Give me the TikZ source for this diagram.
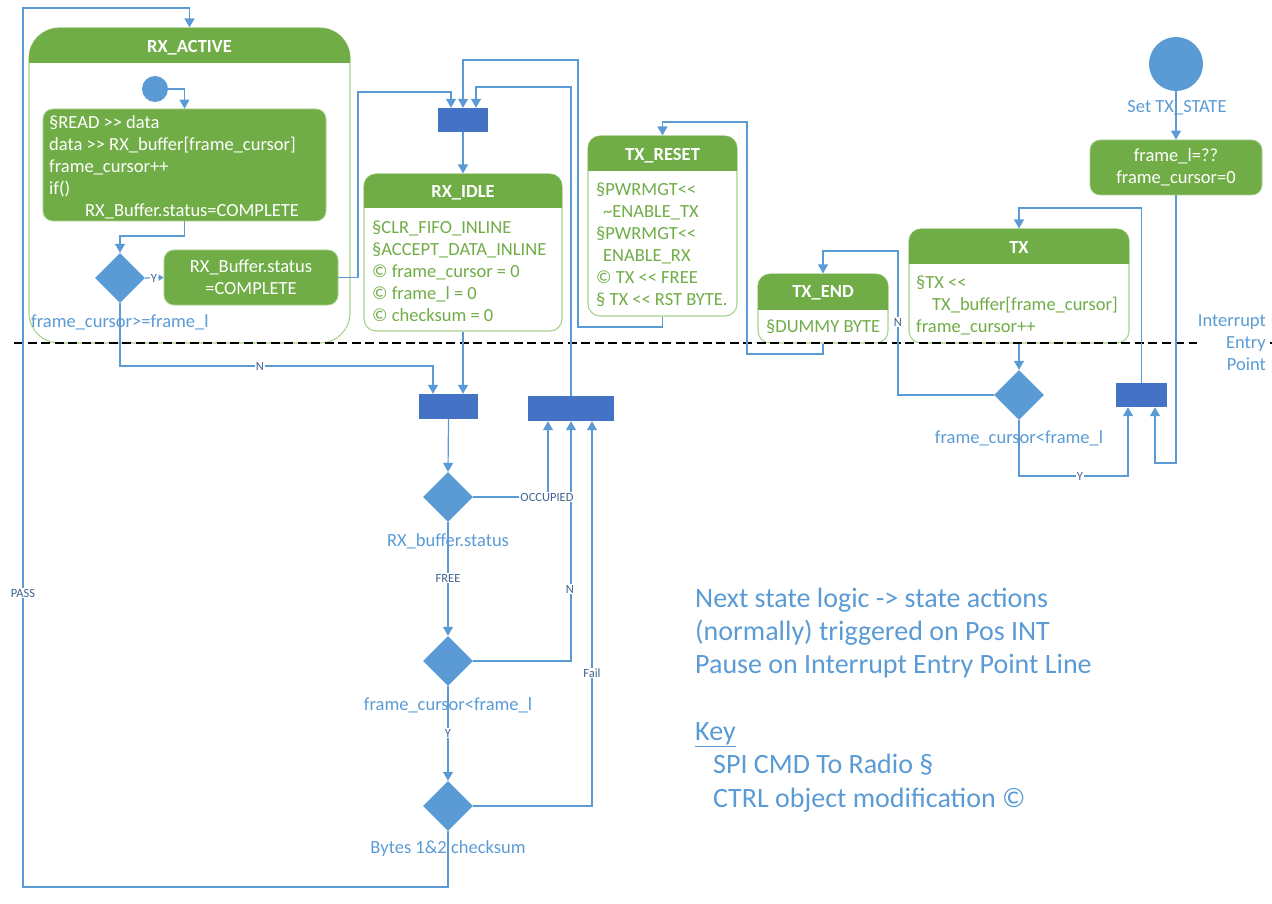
\documentclass[tikz,border=0pt]{standalone}
\usepackage{fontspec}
\setmainfont{Carlito}
\usetikzlibrary{arrows.meta,shapes.geometric}
\definecolor{grn}{HTML}{70AD47}
\definecolor{lgrn}{HTML}{A9D18E}
\definecolor{cblue}{HTML}{5B9BD5}
\definecolor{barblue}{HTML}{4472C4}
\definecolor{lblc}{HTML}{41638F}
\newcommand{\bodyfont}{\fontsize{18.5}{22}\selectfont}
\newcommand{\smallfont}{\fontsize{12.5}{14}\selectfont}
\newcommand{\keyfont}{\fontsize{28}{33}\selectfont}
\newcommand{\hdrfill}[5]{\begin{scope}\clip (#1,#2) rectangle (#3,#4);\fill[grn, rounded corners=#5] (#1,#2) rectangle (#3,#4+40);\end{scope}}
\begin{document}
\begin{tikzpicture}[x=1pt,y=-1pt,
  conn/.style={draw=cblue, line width=1.2pt},
  arr/.style={conn, -{Triangle[width=10pt,length=9pt]}},
  sarr/.style={conn, -{Triangle[width=6pt,length=5pt]}},
  stbox/.style={draw=lgrn, line width=1.1pt, fill=white, rounded corners=12pt, inner sep=0pt},
  actbox/.style={fill=grn, draw=lgrn, line width=0.8pt, rounded corners=10pt, inner sep=0pt, text=white, font=\bodyfont, align=center},
  bar/.style={fill=barblue, inner sep=0pt},
  dec/.style={diamond, fill=cblue, minimum width=50pt, minimum height=50pt, inner sep=0pt},
  slbl/.style={fill=white, inner sep=1pt, text=lblc, font=\smallfont},
  blbl/.style={text=cblue, font=\bodyfont, inner sep=0pt},
  ttl/.style={text=white, font=\bodyfont\bfseries, inner sep=0pt, yshift=-2pt},
  bodytxt/.style={text=grn, font=\bodyfont, align=left, inner sep=0pt, anchor=west, yshift=-1pt},
  keytxt/.style={text=cblue, font=\keyfont, inner sep=0pt, anchor=west, text height=20pt, text depth=7pt, yshift=-2pt}
]
\useasboundingbox (0,0) rectangle (1272,904);

% ---------- RX_ACTIVE ----------
\node[stbox, rounded corners=30pt, minimum width=321pt, minimum height=315pt] (rxa) at (189.5,185.5) {};
\hdrfill{29}{28}{350}{63}{30pt}
\node[ttl] (rxat) at (189.5,46) {RX\_ACTIVE};
\node[circle, fill=cblue, minimum size=26pt, inner sep=0pt] (c1) at (155,89) {};
\node[actbox, minimum width=283pt, minimum height=112pt] (act) at (184.5,165) {};
\node[text=white, font=\bodyfont, align=left, inner sep=0pt, anchor=west, yshift=-1pt] (actt) at (49,166)
 {§READ >{}> data\\data >{}> RX\_buffer[frame\_cursor]\\frame\_cursor++\\if()\\\hspace*{36pt}RX\_Buffer.status=COMPLETE};
\node[dec] (d1) at (120,278) {};
\node[actbox, minimum width=174pt, minimum height=55pt] (rxbuf) at (251,277.5) {RX\_Buffer.status\\=COMPLETE};
\node[blbl, anchor=west] (l1) at (31,322) {frame\_cursor>=frame\_l};

% ---------- RX_IDLE ----------
\node[stbox, minimum width=198pt, minimum height=157pt] (rxidle) at (463,252.5) {};
\hdrfill{364}{174}{562}{208}{12pt}
\node[ttl] (rxit) at (463,191) {RX\_IDLE};
\node[bodytxt] (rxib) at (372,270) {§CLR\_FIFO\_INLINE\\§ACCEPT\_DATA\_INLINE\\© frame\_cursor = 0\\© frame\_l = 0\\© checksum = 0};

% ---------- bars ----------
\node[bar, minimum width=50pt, minimum height=24pt] (bar1) at (463,120) {};
\node[bar, minimum width=59pt, minimum height=25pt] (bar3) at (448.5,406.5) {};
\node[bar, minimum width=86pt, minimum height=25pt] (bar2) at (571,408.5) {};
\node[bar, minimum width=51pt, minimum height=24pt] (bar4) at (1141.5,395) {};

% ---------- decisions ----------
\node[dec] (d2) at (448,497) {};
\node[dec] (d3) at (448,661) {};
\node[dec] (d4) at (448,806) {};
\node[dec] (d5) at (1019,395) {};

% ---------- TX_RESET ----------
\node[stbox, minimum width=149pt, minimum height=180pt] (txr) at (662.5,226) {};
\hdrfill{588}{136}{737}{171}{12pt}
\node[ttl] (txrt) at (662.5,154) {TX\_RESET};
\node[bodytxt] (txrb) at (596,244) {§PWRMGT<{}<\\\hspace*{7pt}\textasciitilde ENABLE\_TX\\§PWRMGT<{}<\\\hspace*{7pt}ENABLE\_RX\\© TX <{}< FREE\\§ TX <{}< RST BYTE.};

% ---------- TX_END ----------
\node[stbox, minimum width=130pt, minimum height=69pt] (txe) at (823,308.5) {};
\hdrfill{758}{274}{888}{309}{12pt}
\node[ttl] (txet) at (823,291) {TX\_END};
\node[bodytxt] (txeb) at (766,326) {§DUMMY BYTE};

% ---------- TX ----------
\node[stbox, minimum width=220pt, minimum height=114pt] (tx) at (1019,286) {};
\hdrfill{909}{229}{1129}{264}{12pt}
\node[ttl] (txt) at (1019,246) {TX};
\node[bodytxt] (txb) at (916,304) {§TX <{}<\\\hspace*{16pt}TX\_buffer[frame\_cursor]\\frame\_cursor++};

% ---------- TX entry ----------
\node[circle, fill=cblue, minimum size=54pt, inner sep=0pt] (c2) at (1176,64) {};
\node[actbox, minimum width=172pt, minimum height=55pt] (fl) at (1176,167.5) {frame\_l=??\\frame\_cursor=0};

% ---------- dashed interrupt line ----------
\draw[black, line width=1.1pt, dash pattern=on 9pt off 4.5pt] (14,343) -- (1272,343);
\node[text=cblue, font=\bodyfont, align=right, anchor=east, fill=white, inner xsep=1pt, inner ysep=1pt] (iep) at (1267,343) {Interrupt\\Entry\\Point};

% ---------- connectors ----------
\draw[arr] (d4.south) -- (448,887) -- (23,887) -- (23,8) -| (rxa.north);
\draw[arr] (c1.east) -| (act.north);
\draw[arr] (act.south) -- (184.5,236) -| (d1.north);
\draw[sarr] (d1.east) -- (rxbuf.west);
\draw[arr] (rxbuf.east) -- (358,277.5) -- (358,92) -| ([xshift=-12pt]bar1.north);
\draw[arr] (txr.south) -- (662.5,327) -- (578,327) -- (578,60) -| (bar1.north);
\draw[arr] (bar2.north) -- (571,87) -| ([xshift=13pt]bar1.north);
\draw[arr] (bar1.south) -- (rxidle.north);
\draw[arr] (rxidle.south) -- ([xshift=14.5pt]bar3.north);
\draw[arr] (d1.south) -- (120,366) -| ([xshift=-15.5pt]bar3.north);
\draw[arr] (bar3.south) -- (d2.north);
\draw[arr] (d2.east) -| ([xshift=-23pt]bar2.south);
\draw[arr] (d2.south) -- (d3.north);
\draw[arr] (d3.east) -| (bar2.south);
\draw[arr] (d3.south) -- (d4.north);
\draw[arr] (d4.east) -| ([xshift=21pt]bar2.south);
\draw[arr] (txe.south) -- (823,354) -- (747,354) -- (747,122) -| (txr.north);
\draw[arr] (d5.west) -- (898,395) -- (898,251) -| (txe.north);
\draw[arr] (tx.south) -- (d5.north);
\draw[arr] (d5.south) -- (1019,476) -| ([xshift=-13.5pt]bar4.south);
\draw[arr] (bar4.north) -- (1141.5,208) -| (tx.north);
\draw[arr] (c2.south) -- (fl.north);
\draw[arr] (fl.south) -- (1176,463) -| ([xshift=13.5pt]bar4.south);

% ---------- connector labels ----------
\node[slbl, inner sep=0.5pt] (ly1) at (154,278) {Y};
\node[slbl] (lpass) at (23,593) {PASS};
\node[slbl] (ln1) at (260,366) {N};
\node[slbl] (locc) at (547,497) {OCCUPIED};
\node[slbl] (lfree) at (448,578) {FREE};
\node[slbl] (ln2) at (570,589) {N};
\node[slbl] (ly2) at (448,733) {Y};
\node[slbl] (lfail) at (592,673) {Fail};
\node[slbl] (ln3) at (898,322) {N};
\node[slbl] (ly3) at (1080,476) {Y};

% ---------- decision labels ----------
\node[blbl] (l2) at (448,541) {RX\_buffer.status};
\node[blbl] (l3) at (448,705) {frame\_cursor<frame\_l};
\node[blbl] (l4) at (448,849) {Bytes 1\&2 checksum};
\node[blbl] (l5) at (1019,438) {frame\_cursor<frame\_l};
\node[blbl] (l6) at (1177,108) {Set TX\_STATE};

% ---------- key ----------
\node[keytxt] (k1) at (695,599) {Next state logic -> state actions};
\node[keytxt] (k2) at (695,632) {(normally) triggered on Pos INT};
\node[keytxt] (k3) at (695,665) {Pause on Interrupt Entry Point Line};
\node[keytxt] (k4) at (695,732) {\underline{Key}};
\node[keytxt] (k5) at (713,765) {SPI CMD To Radio §};
\node[keytxt] (k6) at (713,799) {CTRL object modification ©};
\end{tikzpicture}
\end{document}
